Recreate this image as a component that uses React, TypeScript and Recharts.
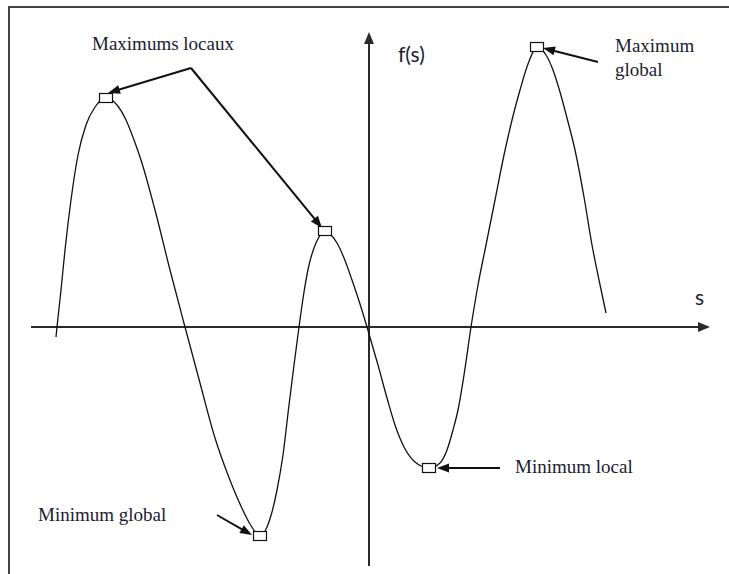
import React from 'react';
import { LineChart, Line, XAxis, YAxis, ReferenceLine, ReferenceDot } from 'recharts';

// Sample points along f(s), in axis units (origin where the two axes cross)
const sValues = [
  -3.13, -3.12, -3.08, -3.04, -2.98, -2.91, -2.83, -2.74, -2.63,
  -2.52, -2.43, -2.35, -2.28, -2.14, -1.99, -1.84, -1.69, -1.54, -1.41, -1.29, -1.19, -1.09,
  -1.02, -0.97, -0.92, -0.86, -0.8, -0.75, -0.7, -0.65, -0.6, -0.55, -0.5, -0.44,
  -0.38, -0.32, -0.25, -0.17, -0.09, -0.02, 0.09, 0.18, 0.26, 0.35, 0.46, 0.6,
  0.71, 0.78, 0.84, 0.89, 0.95, 1.02, 1.09, 1.17, 1.26, 1.35, 1.43, 1.51, 1.59, 1.68,
  1.77, 1.84, 1.91, 1.98, 2.06, 2.15, 2.23, 2.3, 2.37,
];
const fValues = [
  -0.1, 0, 0.37, 0.77, 1.27, 1.72, 2.02, 2.2, 2.29,
  2.22, 2.07, 1.87, 1.67, 1.17, 0.57, 0, -0.56, -1.11, -1.48, -1.77, -1.97, -2.09,
  -2.0, -1.85, -1.63, -1.28, -0.78, -0.38, 0, 0.35, 0.62, 0.79, 0.9, 0.96,
  0.92, 0.84, 0.69, 0.47, 0.23, 0, -0.38, -0.71, -0.98, -1.2, -1.35, -1.41,
  -1.36, -1.23, -1.03, -0.83, -0.48, 0, 0.42, 0.82, 1.27, 1.72, 2.07, 2.37, 2.63, 2.8,
  2.72, 2.57, 2.35, 2.09, 1.77, 1.3, 0.82, 0.47, 0.14,
];

// Extrema marked with small squares
const extremaS = [-2.63, -1.09, -0.44, 0.6, 1.68];
const extremaF = [2.29, -2.09, 0.96, -1.41, 2.8];

// Annotation arrows: from (fromS, fromF) to (toS, toF)
const arrowFromS = [-1.78, -1.78, 2.29, 1.31, -1.52];
const arrowFromF = [2.59, 2.59, 2.65, -1.41, -1.88];
const arrowToS = [-2.61, -0.47, 1.74, 0.68, -1.17];
const arrowToF = [2.34, 0.99, 2.79, -1.41, -2.08];

// Text annotations
const noteTexts = ['Maximums locaux', 'Minimum local', 'Minimum global'];
const noteS = [-2.77, 1.46, -3.31];
const noteF = [2.77, -1.46, -1.94];
const globalMaxLines = ['Maximum', 'global'];

const S_DOMAIN: [number, number] = [-3.69, 3.6];
const F_DOMAIN: [number, number] = [-2.47, 3.27];

const data = sValues.map((s, i) => ({ s, f: fValues[i] }));

const INK = '#111';
const TEXT = '#1c1c30';
const SERIF = '"Liberation Serif", "Times New Roman", serif';
const SANS = "Lato, 'Open Sans', sans-serif";

function makeArrow(head: number, width: number, strokeWidth: number, color: string) {
  return (props: any) => {
    const { x1, y1, x2, y2 } = props;
    const dx = x2 - x1;
    const dy = y2 - y1;
    const len = Math.hypot(dx, dy) || 1;
    const ux = dx / len;
    const uy = dy / len;
    const bx = x2 - ux * head;
    const by = y2 - uy * head;
    const px = -uy * (width / 2);
    const py = ux * (width / 2);
    return (
      <g>
        <line x1={x1} y1={y1} x2={bx + ux} y2={by + uy} stroke={color} strokeWidth={strokeWidth} />
        <polygon points={`${x2},${y2} ${bx + px},${by + py} ${bx - px},${by - py}`} fill={color} />
      </g>
    );
  };
}

const axisArrow = makeArrow(12, 10, 2, '#2a2a2a');
const noteArrow = makeArrow(12, 9, 2, INK);

const squareMarker = (props: any) => (
  <rect x={props.cx - 6.5} y={props.cy - 4.5} width={13} height={9} fill="#fff" stroke={INK} strokeWidth={1.2} />
);

export default function App() {
  return (
    <div style={{ position: 'absolute', left: 0, top: 0, width: 729, height: 574, background: '#fff', overflow: 'hidden' }}>
      <div
        style={{
          position: 'absolute',
          left: 8,
          top: 6,
          right: -4,
          bottom: -4,
          borderTop: '2px solid #444',
          borderLeft: '2px solid #444',
        }}
      />
      <div style={{ position: 'absolute', left: 0, top: 0 }}>
        <LineChart width={729} height={574} data={data} margin={{ top: 0, right: 0, bottom: 0, left: 0 }}>
          <XAxis type="number" dataKey="s" domain={S_DOMAIN} allowDataOverflow hide />
          <YAxis type="number" domain={F_DOMAIN} allowDataOverflow hide />

          {/* s axis and f(s) axis */}
          <ReferenceLine segment={[{ x: -3.38, y: 0 }, { x: 3.41, y: 0 }]} shape={axisArrow} />
          <ReferenceLine segment={[{ x: 0, y: -2.39 }, { x: 0, y: 2.95 }]} shape={axisArrow} />

          <Line
            type="monotone"
            dataKey="f"
            stroke={INK}
            strokeWidth={1.3}
            dot={false}
            activeDot={false}
            isAnimationActive={false}
          />

          {arrowFromS.map((s, i) => (
            <ReferenceLine
              key={`arrow-${i}`}
              segment={[{ x: s, y: arrowFromF[i] }, { x: arrowToS[i], y: arrowToF[i] }]}
              shape={noteArrow}
            />
          ))}

          {extremaS.map((s, i) => (
            <ReferenceDot key={`ext-${i}`} x={s} y={extremaF[i]} shape={squareMarker} />
          ))}

          {noteTexts.map((t, i) => (
            <ReferenceDot
              key={`note-${i}`}
              x={noteS[i]}
              y={noteF[i]}
              shape={(p: any) => (
                <text x={p.cx} y={p.cy} fill={TEXT} fontFamily={SERIF} fontSize={19}>
                  {t}
                </text>
              )}
            />
          ))}

          <ReferenceDot
            x={2.46}
            y={2.75}
            shape={(p: any) => (
              <text x={p.cx} y={p.cy} fill={TEXT} fontFamily={SERIF} fontSize={19}>
                <tspan x={p.cx}>{globalMaxLines[0]}</tspan>
                <tspan x={p.cx} dy={24}>{globalMaxLines[1]}</tspan>
              </text>
            )}
          />

          <ReferenceDot
            x={0.29}
            y={2.65}
            shape={(p: any) => (
              <text x={p.cx} y={p.cy} fill={TEXT} fontFamily={SANS} fontSize={21}>
                f(s)
              </text>
            )}
          />
          <ReferenceDot
            x={3.26}
            y={0.22}
            shape={(p: any) => (
              <text x={p.cx} y={p.cy} fill={TEXT} fontFamily={SANS} fontSize={21}>
                s
              </text>
            )}
          />
        </LineChart>
      </div>
    </div>
  );
}
